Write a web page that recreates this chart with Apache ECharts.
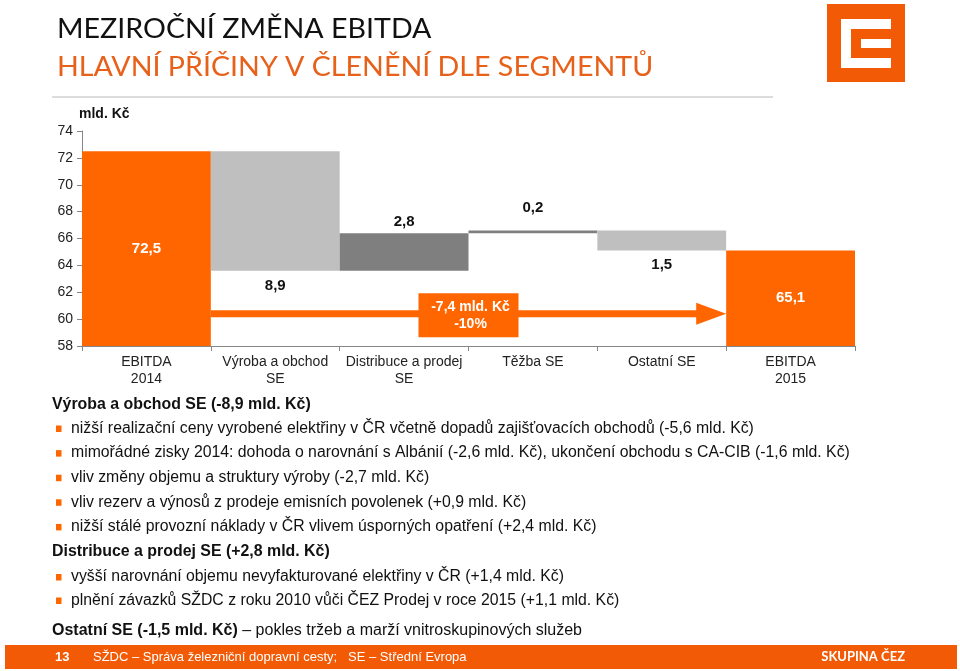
<!DOCTYPE html>
<html>
<head>
<meta charset="utf-8">
<script src="https://cdn.jsdelivr.net/npm/echarts@6/dist/echarts.min.js"></script>
<style>
html,body{margin:0;padding:0;background:#fff;}
#main{width:960px;height:671px;}
</style>
</head>
<body>
<div id="main"></div>
<script>
// ---------- DATA ----------
const categories = ['EBITDA\n2014', 'Výroba a obchod\nSE', 'Distribuce a prodej\nSE', 'Těžba SE', 'Ostatní SE', 'EBITDA\n2015'];
const ebitdaStart = 72.5;
const segmentChanges = [-8.9, 2.8, 0.2, -1.5];
const ebitdaEnd = 65.1;
const yTicks = [58, 60, 62, 64, 66, 68, 70, 72, 74];
const arrowLevel = 60.4;
const changeBoxText = ['-7,4 mld. Kč', '-10%'];
const unitLabel = 'mld. Kč';

const titleLine1 = 'MEZIROČNÍ ZMĚNA EBITDA';
const titleLine2 = 'HLAVNÍ PŘÍČINY V ČLENĚNÍ DLE SEGMENTŮ';
const heading1 = 'Výroba a obchod SE (-8,9 mld. Kč)';
const bullets1 = [
  'nižší realizační ceny vyrobené elektřiny v ČR včetně dopadů zajišťovacích obchodů (-5,6 mld. Kč)',
  'mimořádné zisky 2014: dohoda o narovnání s Albánií (-2,6 mld. Kč), ukončení obchodu s CA-CIB (-1,6 mld. Kč)',
  'vliv změny objemu a struktury výroby (-2,7 mld. Kč)',
  'vliv rezerv a výnosů z prodeje emisních povolenek (+0,9 mld. Kč)',
  'nižší stálé provozní náklady v ČR vlivem úsporných opatření (+2,4 mld. Kč)'
];
const heading2 = 'Distribuce a prodej SE (+2,8 mld. Kč)';
const bullets2 = [
  'vyšší narovnání objemu nevyfakturované elektřiny v ČR (+1,4 mld. Kč)',
  'plnění závazků SŽDC z roku 2010 vůči ČEZ Prodej v roce 2015 (+1,1 mld. Kč)'
];
const heading3Bold = 'Ostatní SE (-1,5 mld. Kč)';
const heading3Rest = ' – pokles tržeb a marží vnitroskupinových služeb';
const footerNumber = '13';
const footerText = 'SŽDC – Správa železniční dopravní cesty;   SE – Střední Evropa';
const footerBrand = 'SKUPINA ČEZ';

// ---------- STYLE ----------
const ORANGE = '#ff6600';
const BRAND = '#f25a05';
const TITLE_ORANGE = '#e8611a';
const barColors = [ORANGE, '#bfbfbf', '#7f7f7f', '#7f7f7f', '#bfbfbf', ORANGE];
const FONT = '"Liberation Sans", Arial, sans-serif';
const TFONT = 'Lato, "Open Sans", sans-serif';

function fmt(v) { return (Math.round(Math.abs(v) * 10) / 10).toFixed(1).replace('.', ','); }

// waterfall stacking (invisible base + visible part)
const baseData = [0];
const visData = [ebitdaStart];
let running = ebitdaStart;
segmentChanges.forEach(c => {
  const lo = Math.min(running, running + c);
  baseData.push(lo);
  visData.push(Math.abs(c));
  running += c;
});
baseData.push(0);
visData.push(ebitdaEnd);

const labelCfg = [
  { show: true, position: 'inside', color: '#fff' },
  { show: true, position: 'bottom', distance: 8, color: '#111' },
  { show: true, position: 'top', distance: 4, color: '#111' },
  { show: true, position: 'top', distance: 15, color: '#111' },
  { show: true, position: 'bottom', distance: 7, color: '#111' },
  { show: true, position: 'inside', color: '#fff' }
];

const visItems = visData.map((v, i) => ({
  value: v,
  itemStyle: { color: barColors[i] },
  label: Object.assign({ fontFamily: FONT, fontSize: 15, fontWeight: 'bold', formatter: () => fmt(v) }, labelCfg[i])
}));

// ---------- GRAPHIC (text block, header, footer) ----------
const graphics = [];
// header titles
graphics.push({ type: 'text', x: 57, y: 29.5, scaleX: 1.1, style: { text: titleLine1, font: '400 26px ' + TFONT, fill: '#111', textVerticalAlign: 'middle' } });
graphics.push({ type: 'text', x: 57, y: 68, scaleX: 1.1, style: { text: titleLine2, font: '400 26px ' + TFONT, fill: TITLE_ORANGE, textVerticalAlign: 'middle' } });
// separator
graphics.push({ type: 'rect', shape: { x: 52, y: 96, width: 721, height: 2 }, style: { fill: '#dcdcdc' } });
// logo
graphics.push({ type: 'rect', shape: { x: 827, y: 4, width: 78, height: 78 }, style: { fill: BRAND } });
graphics.push({ type: 'rect', shape: { x: 841, y: 19, width: 50, height: 49 }, style: { fill: '#fff' } });
graphics.push({ type: 'rect', shape: { x: 851, y: 29, width: 40, height: 29 }, style: { fill: BRAND } });
graphics.push({ type: 'rect', shape: { x: 861, y: 39, width: 30, height: 9 }, style: { fill: '#fff' } });

// text section
function textLine(x, y, txt, bold) {
  graphics.push({ type: 'text', x: x, y: y, style: { text: txt, font: (bold ? 'bold 15.9px ' : '15.8px ') + FONT, fill: '#111', textVerticalAlign: 'middle' } });
}
function bullet(y) {
  graphics.push({ type: 'rect', shape: { x: 56, y: y - 3, width: 5.5, height: 6.5 }, style: { fill: ORANGE } });
}
textLine(52, 405, heading1, true);
bullets1.forEach((b, i) => { const y = 428.5 + i * 24.6; bullet(y); textLine(71, y, b, false); });
textLine(52, 552, heading2, true);
bullets2.forEach((b, i) => { const y = 577 + i * 23.5; bullet(y); textLine(71, y, b, false); });
graphics.push({ type: 'text', x: 52, y: 630.5, style: {
  text: '{b|' + heading3Bold + '}{n|' + heading3Rest + '}',
  textVerticalAlign: 'middle',
  rich: { b: { font: 'bold 16px ' + FONT, fill: '#111', color: '#111' }, n: { font: '16px ' + FONT, fill: '#111', color: '#111' } }
} });

// footer
graphics.push({ type: 'rect', shape: { x: 5, y: 645, width: 952, height: 24 }, style: { fill: BRAND } });
graphics.push({ type: 'text', x: 55, y: 657, style: { text: footerNumber, font: 'bold 13px ' + FONT, fill: '#fff', textVerticalAlign: 'middle' } });
graphics.push({ type: 'text', x: 93, y: 657, style: { text: footerText, font: '13px ' + FONT, fill: '#fff', textVerticalAlign: 'middle' } });
graphics.push({ type: 'text', x: 905, y: 657, style: { text: footerBrand, font: 'bold 13px Lato, "Open Sans", sans-serif', fill: '#fff', textAlign: 'right', textVerticalAlign: 'middle' } });

const chart = echarts.init(document.getElementById('main'), null, { renderer: 'canvas' });
chart.setOption({
  animation: false,
  backgroundColor: '#fff',
  grid: { left: 82, right: 105, top: 131, bottom: 325, containLabel: false },
  xAxis: {
    type: 'category',
    data: categories,
    boundaryGap: true,
    axisLine: { lineStyle: { color: '#868686', width: 1 } },
    axisTick: { show: true, length: 5, lineStyle: { color: '#868686' } },
    axisLabel: { fontFamily: FONT, fontSize: 14, color: '#222', lineHeight: 17, margin: 8, interval: 0 }
  },
  yAxis: {
    type: 'value',
    min: yTicks[0],
    max: yTicks[yTicks.length - 1],
    interval: 2,
    name: unitLabel,
    nameLocation: 'end',
    nameGap: 10,
    nameTextStyle: { fontFamily: FONT, fontSize: 14, fontWeight: 'bold', color: '#111', align: 'left', padding: [0, 0, 0, -3] },
    axisLine: { show: true, lineStyle: { color: '#868686' } },
    axisTick: { show: true, length: 5, lineStyle: { color: '#868686' } },
    splitLine: { show: false },
    axisLabel: { fontFamily: FONT, fontSize: 14, color: '#222', margin: 9 }
  },
  series: [
    {
      type: 'bar', stack: 'wf', data: baseData, barCategoryGap: 0,
      itemStyle: { color: 'transparent' }, emphasis: { disabled: true }, silent: true
    },
    {
      type: 'bar', stack: 'wf', data: visItems, barCategoryGap: 0
    },
    {
      type: 'custom',
      data: [[1, 4, arrowLevel]],
      encode: { x: 0, y: 2 },
      z: 10,
      renderItem: function (params, api) {
        const from = api.value(0), to = api.value(1), lvl = api.value(2);
        const band = api.size([1, 0])[0];
        const y = api.coord([from, lvl])[1];
        const x0 = api.coord([from, lvl])[0] - band / 2;
        const x1 = api.coord([to, lvl])[0] + band / 2;
        const boxX = api.coord([2, lvl])[0] + band / 2;
        const head = 30, half = 11, th = 7;
        return {
          type: 'group',
          children: [
            { type: 'rect', shape: { x: x0, y: y - th / 2, width: x1 - head - x0 + 1, height: th }, style: { fill: ORANGE } },
            { type: 'polygon', shape: { points: [[x1 - head, y - half], [x1, y], [x1 - head, y + half]] }, style: { fill: ORANGE } },
            { type: 'rect', shape: { x: boxX - 50, y: y - 20.5, width: 100, height: 44 }, style: { fill: ORANGE } },
            { type: 'text', x: boxX + 2, y: y + 1.5, style: { text: changeBoxText.join('\n'), font: 'bold 14px ' + FONT, fill: '#fff', textAlign: 'center', textVerticalAlign: 'middle', lineHeight: 17 } }
          ]
        };
      }
    }
  ],
  graphic: graphics
});
</script>
</body>
</html>
